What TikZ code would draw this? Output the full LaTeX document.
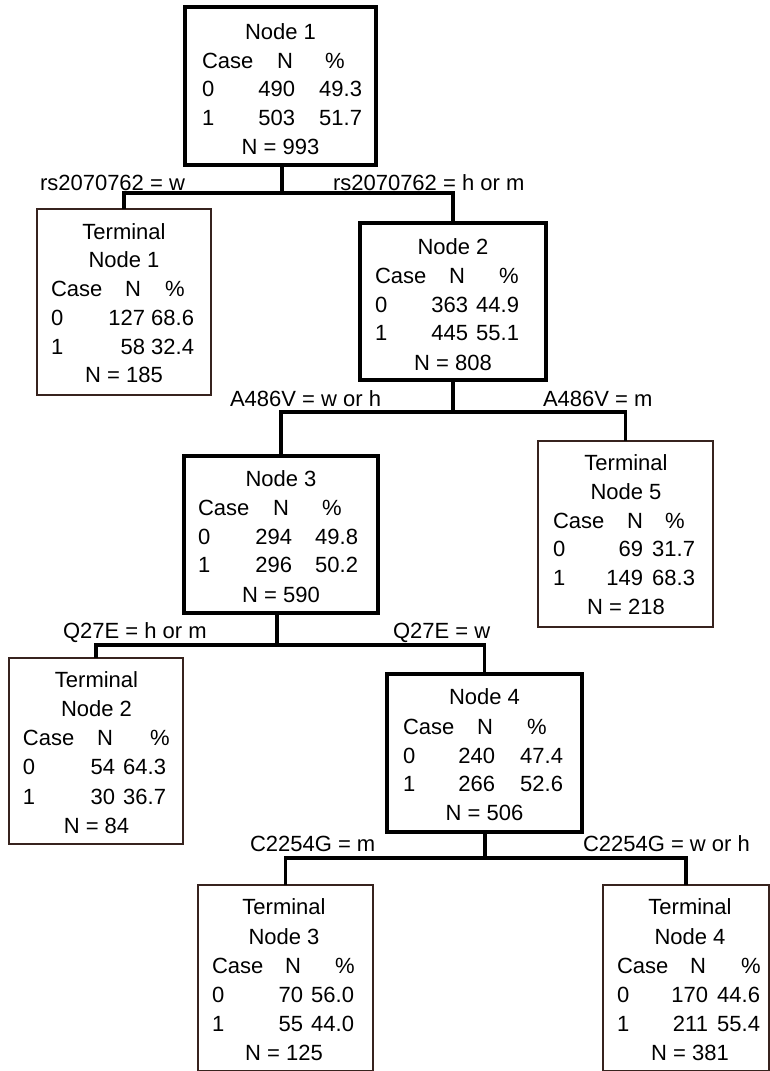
\documentclass[tikz,border=0pt]{standalone}
\usepackage{fontspec}
\setmainfont{Liberation Sans}
\definecolor{tboxcol}{RGB}{55,35,30}
\tikzset{
  txt/.style={inner sep=0pt, outer sep=0pt, font=\fontsize{22pt}{26pt}\selectfont, text=black},
  ibox/.style={draw=black, line width=3.8pt, rectangle, inner sep=0pt, outer sep=0pt, fill=white},
  tbox/.style={draw=tboxcol, line width=1.6pt, rectangle, inner sep=0pt, outer sep=0pt, fill=white},
  conn/.style={draw=black, line width=3.8pt, line join=miter},
}
\newcommand\setcols[5]{\def\xa{#1}\def\xb{#2}\def\xc{#3}\def\xd{#4}\def\xe{#5}}
\newcommand\hdr[2]{%
  \node[txt,anchor=base west] (#1ha) at (\xa,#2+7.9) {Case};
  \node[txt,anchor=base] (#1hb) at (\xb,#2+7.9) {N};
  \node[txt,anchor=base] (#1hc) at (\xc,#2+7.9) {\%};}
\newcommand\drow[5]{%
  \node[txt,anchor=base west] (#1a) at (\xa,#2+7.9) {#3};
  \node[txt,anchor=base east] (#1b) at (\xd,#2+7.9) {#4};
  \node[txt,anchor=base east] (#1c) at (\xe,#2+7.9) {#5};}
\newcommand\ctext[4]{\node[txt,anchor=base] (#1) at (#2,#3+7.9) {#4};}
\begin{document}
\begin{tikzpicture}[x=1pt,y=-1pt]
\fill[white] (0,0) rectangle (770,1071);
\useasboundingbox (0,0) rectangle (770,1071);

% ---------- boxes ----------
\node[ibox,minimum width=191pt,minimum height=158pt] (n1) at (280.5,86) {};
\node[ibox,minimum width=186pt,minimum height=157pt] (n2) at (453,301.5) {};
\node[ibox,minimum width=194pt,minimum height=157pt] (n3) at (281,534.5) {};
\node[ibox,minimum width=195pt,minimum height=158pt] (n4) at (484.5,753) {};
\node[tbox,minimum width=174pt,minimum height=186pt] (t1) at (124,302) {};
\node[tbox,minimum width=175pt,minimum height=186pt] (t5) at (625.5,534) {};
\node[tbox,minimum width=174pt,minimum height=186pt] (t2) at (96,751) {};
\node[tbox,minimum width=175pt,minimum height=186pt] (t3) at (285.5,978) {};
\node[tbox,minimum width=166pt,minimum height=186pt] (t4) at (686,978) {};

% ---------- junctions ----------
\coordinate (j1) at (282,193);
\coordinate (j2) at (453,412);
\coordinate (j3) at (277,645);
\coordinate (j4) at (485,858);

% ---------- connectors ----------
\draw[conn] (n1.south -| j1) -- (j1);
\draw[conn] (t1.north) |- (j1) -| (n2.north);
\draw[conn] (n2.south -| j2) -- (j2);
\draw[conn] (n3.north) |- (j2) -| (t5.north);
\draw[conn] (n3.south -| j3) -- (j3);
\draw[conn] (t2.north) |- (j3) -| (n4.north);
\draw[conn] (n4.south -| j4) -- (j4);
\draw[conn] (t3.north) |- (j4) -| (t4.north);

% ---------- split labels ----------
\node[txt,anchor=base west] (l1a) at (40,190.9) {rs2070762 = w};
\node[txt,anchor=base west] (l1b) at (333,190.9) {rs2070762 = h or m};
\node[txt,anchor=base west] (l2a) at (230,406.9) {A486V = w or h};
\node[txt,anchor=base west] (l2b) at (543,406.9) {A486V = m};
\node[txt,anchor=base west] (l3a) at (63,638.9) {Q27E = h or m};
\node[txt,anchor=base west] (l3b) at (393,638.9) {Q27E = w};
\node[txt,anchor=base west] (l4a) at (250,851.9) {C2254G = m};
\node[txt,anchor=base west] (l4b) at (583,851.9) {C2254G = w or h};

% ---------- Node 1 ----------
\setcols{202}{285}{335}{295}{362}
\ctext{n1t}{280.5}{32}{Node 1}
\hdr{n1}{61}
\drow{n1r0}{89}{0}{490}{49.3}
\drow{n1r1}{118}{1}{503}{51.7}
\ctext{n1f}{280.5}{147}{N = 993}

% ---------- Node 2 ----------
\setcols{375}{457}{509}{468}{519}
\ctext{n2t}{453}{247}{Node 2}
\hdr{n2}{276}
\drow{n2r0}{305}{0}{363}{44.9}
\drow{n2r1}{333}{1}{445}{55.1}
\ctext{n2f}{453}{363}{N = 808}

% ---------- Node 3 ----------
\setcols{198}{281}{332}{292}{358}
\ctext{n3t}{281}{479}{Node 3}
\hdr{n3}{508}
\drow{n3r0}{537}{0}{294}{49.8}
\drow{n3r1}{565}{1}{296}{50.2}
\ctext{n3f}{281}{595}{N = 590}

% ---------- Node 4 ----------
\setcols{403}{485}{537}{495}{563}
\ctext{n4t}{484.5}{697}{Node 4}
\hdr{n4}{727}
\drow{n4r0}{756}{0}{240}{47.4}
\drow{n4r1}{784}{1}{266}{52.6}
\ctext{n4f}{484.5}{813}{N = 506}

% ---------- Terminal 1 ----------
\setcols{51}{133}{175}{145}{194}
\ctext{t1t}{124}{232}{Terminal}
\ctext{t1s}{124}{260}{Node 1}
\hdr{t1}{289}
\drow{t1r0}{318}{0}{127}{68.6}
\drow{t1r1}{347}{1}{58}{32.4}
\ctext{t1f}{124}{375}{N = 185}

% ---------- Terminal 5 ----------
\setcols{553}{635}{675}{643}{695}
\ctext{t5t}{626}{463}{Terminal}
\ctext{t5s}{626}{492}{Node 5}
\hdr{t5}{521}
\drow{t5r0}{549}{0}{69}{31.7}
\drow{t5r1}{578}{1}{149}{68.3}
\ctext{t5f}{626}{607}{N = 218}

% ---------- Terminal 2 ----------
\setcols{23}{105}{160}{115}{166}
\ctext{t2t}{96.5}{680}{Terminal}
\ctext{t2s}{96.5}{709}{Node 2}
\hdr{t2}{738}
\drow{t2r0}{767}{0}{54}{64.3}
\drow{t2r1}{797}{1}{30}{36.7}
\ctext{t2f}{96.5}{826}{N = 84}

% ---------- Terminal 3 ----------
\setcols{212}{293}{345}{303}{354}
\ctext{t3t}{284}{907}{Terminal}
\ctext{t3s}{284}{937}{Node 3}
\hdr{t3}{966}
\drow{t3r0}{995}{0}{70}{56.0}
\drow{t3r1}{1024}{1}{55}{44.0}
\ctext{t3f}{284}{1053}{N = 125}

% ---------- Terminal 4 ----------
\setcols{617}{698}{751}{708}{760}
\ctext{t4t}{690}{907}{Terminal}
\ctext{t4s}{690}{937}{Node 4}
\hdr{t4}{966}
\drow{t4r0}{995}{0}{170}{44.6}
\drow{t4r1}{1024}{1}{211}{55.4}
\ctext{t4f}{690}{1053}{N = 381}
\end{tikzpicture}
\end{document}
